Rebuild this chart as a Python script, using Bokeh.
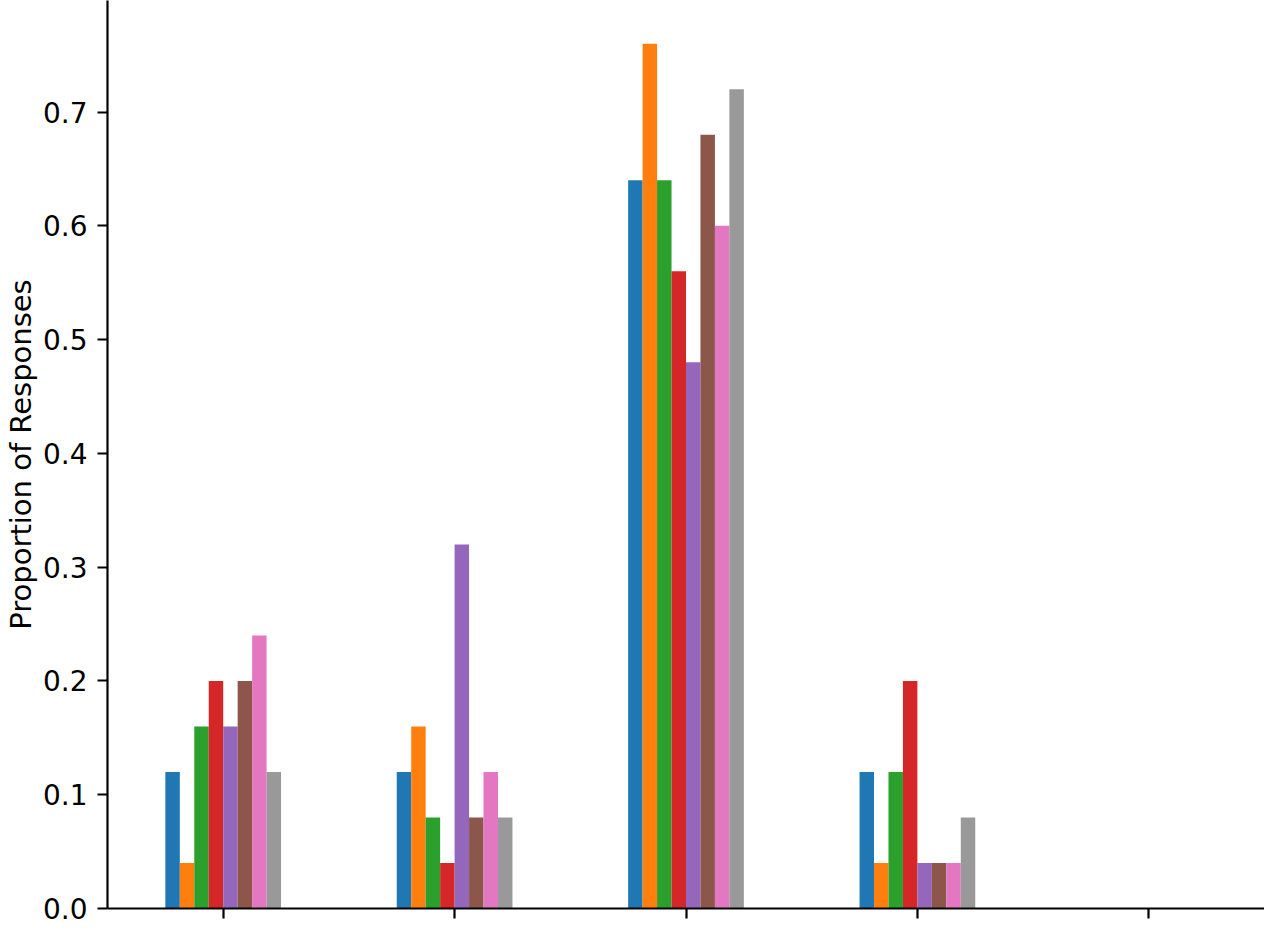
from bokeh.plotting import figure
from bokeh.models import ColumnDataSource, FixedTicker, Range1d, NumeralTickFormatter
from bokeh.embed import file_html
from bokeh.resources import INLINE

groups = [0, 1, 2, 3, 4]
tick_labels = ["", "", "", "", ""]
y_ticks = [0.0, 0.1, 0.2, 0.3, 0.4, 0.5, 0.6, 0.7]
series_colors = ["#1f77b4", "#ff7f0e", "#2ca02c", "#d62728",
                 "#9467bd", "#8c564b", "#e377c2", "#999999"]

s0 = [0.12, 0.12, 0.64, 0.12, 0.0]
s1 = [0.04, 0.16, 0.76, 0.04, 0.0]
s2 = [0.16, 0.08, 0.64, 0.12, 0.0]
s3 = [0.20, 0.04, 0.56, 0.20, 0.0]
s4 = [0.16, 0.32, 0.48, 0.04, 0.0]
s5 = [0.20, 0.08, 0.68, 0.04, 0.0]
s6 = [0.24, 0.12, 0.60, 0.04, 0.0]
s7 = [0.12, 0.08, 0.72, 0.08, 0.0]
series = [s0, s1, s2, s3, s4, s5, s6, s7]

n = len(series)
total_width = 0.5
bar_w = total_width / n

p = figure(width=1264, height=925, output_backend="svg", toolbar_location=None,
           x_range=Range1d(-0.5, 4.5), y_range=Range1d(0, 0.798),
           min_border_left=96, min_border_right=0, min_border_top=0,
           min_border_bottom=17)

for i, (vals, col) in enumerate(zip(series, series_colors)):
    offset = (i - (n - 1) / 2) * bar_w
    src = ColumnDataSource(dict(x=[g + offset for g in groups], top=vals))
    p.vbar(x="x", top="top", bottom=0, width=bar_w, source=src,
           fill_color=col, line_color=None)

p.grid.visible = False
p.outline_line_color = None
p.background_fill_color = "white"
p.border_fill_color = "white"

p.xaxis.ticker = FixedTicker(ticks=groups)
p.xaxis.major_label_overrides = {g: lab for g, lab in zip(groups, tick_labels)}
p.xaxis.major_label_text_font_size = "0px"
p.xaxis.minor_tick_line_color = None
p.yaxis.minor_tick_line_color = None
p.yaxis.ticker = FixedTicker(ticks=y_ticks)
p.yaxis.formatter = NumeralTickFormatter(format="0.0")

for ax in (p.xaxis, p.yaxis):
    ax.axis_line_width = 2.2
    ax.major_tick_line_width = 2.2
    ax.major_tick_out = 10
    ax.major_tick_in = 0
    ax.axis_line_color = "black"
    ax.major_tick_line_color = "black"

p.yaxis.major_label_text_font = "DejaVu Sans"
p.yaxis.major_label_text_font_size = "28px"
p.yaxis.major_label_text_color = "black"
p.yaxis.major_label_standoff = 10
p.yaxis.axis_label = "Proportion of Responses"
p.yaxis.axis_label_text_font = "DejaVu Sans"
p.yaxis.axis_label_text_font_size = "29px"
p.yaxis.axis_label_text_font_style = "normal"
p.yaxis.axis_label_text_color = "black"
p.yaxis.axis_label_standoff = 2

open("out.html", "w").write(file_html(p, INLINE))
